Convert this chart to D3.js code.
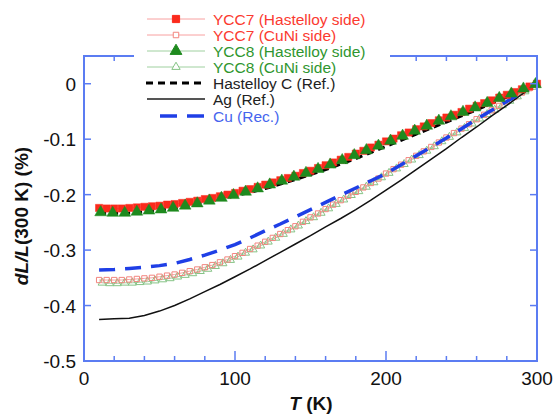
<!DOCTYPE html>
<html><head><meta charset="utf-8">
<script src="https://cdn.jsdelivr.net/npm/d3@7"></script>
<style>html,body{margin:0;padding:0;background:#fff;}svg{display:block;font-family:"Liberation Sans",Arial,sans-serif;}</style>
</head><body>
<svg id="chart" width="558" height="416"></svg>
<script>
// ---------- data ----------
const xTicks = [0, 100, 200, 300];
const yTicks = [0, -0.1, -0.2, -0.3, -0.4, -0.5];
const yTickLabels = ["0", "-0.1", "-0.2", "-0.3", "-0.4", "-0.5"];

const legendLabels = ["YCC7 (Hastelloy side)", "YCC7 (CuNi side)", "YCC8 (Hastelloy side)", "YCC8 (CuNi side)", "Hastelloy C (Ref.)", "Ag (Ref.)", "Cu (Rec.)"];

const tYcc7Hast = [10,15,20,25,30,35,40,45,50,55,60,65,70,75,80,85,90,95,100,105,110,115,120,125,130,135,140,145,150,155,160,165,170,175,180,185,190,195,200,205,210,215,220,225,230,235,240,245,250,255,260,265,270,275,280,285,290,295,300];
const vYcc7Hast = [-0.224,-0.225,-0.225,-0.225,-0.224,-0.223,-0.222,-0.221,-0.220,-0.218,-0.217,-0.215,-0.213,-0.211,-0.208,-0.206,-0.203,-0.200,-0.197,-0.193,-0.190,-0.186,-0.182,-0.178,-0.174,-0.170,-0.166,-0.161,-0.157,-0.152,-0.147,-0.142,-0.137,-0.132,-0.126,-0.121,-0.115,-0.110,-0.104,-0.099,-0.093,-0.088,-0.082,-0.077,-0.071,-0.066,-0.061,-0.056,-0.051,-0.045,-0.040,-0.035,-0.030,-0.025,-0.020,-0.015,-0.010,-0.005,0.000];

const tYcc8Hast = [11,19,27,35,43,51,59,67,75,83,91,99,107,115,123,131,139,147,155,163,171,179,187,195,203,211,219,227,235,243,251,259,267,275,283,291,299];
const vYcc8Hast = [-0.232,-0.233,-0.233,-0.231,-0.229,-0.227,-0.224,-0.220,-0.216,-0.211,-0.206,-0.201,-0.195,-0.189,-0.182,-0.175,-0.168,-0.161,-0.154,-0.146,-0.138,-0.129,-0.120,-0.112,-0.103,-0.094,-0.085,-0.076,-0.067,-0.059,-0.051,-0.043,-0.035,-0.026,-0.018,-0.009,-0.001];

const tYcc7CuNi = [10,15,20,25,30,35,40,45,50,55,60,65,70,75,80,85,90,95,100,105,110,115,120,125,130,135,140,145,150,155,160,165,170,175,180,185,190,195,200,205,210,215,220,225,230,235,240,245,250,255,260,265,270,275,280,285,290,295,300];
const vYcc7CuNi = [-0.354,-0.354,-0.354,-0.354,-0.353,-0.352,-0.351,-0.350,-0.348,-0.346,-0.344,-0.341,-0.338,-0.335,-0.331,-0.327,-0.322,-0.317,-0.311,-0.305,-0.298,-0.292,-0.285,-0.278,-0.271,-0.264,-0.257,-0.249,-0.241,-0.234,-0.226,-0.218,-0.210,-0.202,-0.195,-0.187,-0.179,-0.171,-0.162,-0.154,-0.146,-0.138,-0.130,-0.122,-0.114,-0.106,-0.097,-0.089,-0.081,-0.073,-0.064,-0.056,-0.048,-0.040,-0.032,-0.024,-0.016,-0.008,0.000];

const tYcc8CuNi = [12,17,22,27,32,37,42,47,52,57,62,67,72,77,82,87,92,97,102,107,112,117,122,127,132,137,142,147,152,157,162,167,172,177,182,187,192,197,202,207,212,217,222,227,232,237,242,247,252,257,262,267,272,277,282,287,292,297];
const vYcc8CuNi = [-0.359,-0.360,-0.360,-0.359,-0.359,-0.358,-0.357,-0.355,-0.353,-0.351,-0.348,-0.345,-0.342,-0.338,-0.334,-0.329,-0.324,-0.318,-0.312,-0.305,-0.299,-0.292,-0.285,-0.278,-0.271,-0.263,-0.256,-0.248,-0.241,-0.233,-0.225,-0.217,-0.209,-0.201,-0.194,-0.186,-0.178,-0.169,-0.161,-0.153,-0.145,-0.137,-0.129,-0.121,-0.113,-0.104,-0.096,-0.088,-0.080,-0.072,-0.063,-0.055,-0.047,-0.039,-0.031,-0.023,-0.014,-0.006];

const tRef = [10,20,30,40,50,60,70,80,90,100,110,120,130,140,150,160,170,180,190,200,210,220,230,240,250,260,270,280,290,300];
const vHastelloy = [-0.234,-0.234,-0.233,-0.231,-0.228,-0.224,-0.219,-0.214,-0.208,-0.202,-0.196,-0.189,-0.181,-0.173,-0.164,-0.155,-0.145,-0.135,-0.124,-0.113,-0.102,-0.091,-0.080,-0.069,-0.058,-0.047,-0.035,-0.024,-0.012,0.000];
const vAg = [-0.425,-0.424,-0.423,-0.418,-0.410,-0.400,-0.388,-0.375,-0.362,-0.348,-0.334,-0.319,-0.304,-0.289,-0.274,-0.258,-0.243,-0.227,-0.210,-0.192,-0.174,-0.155,-0.136,-0.117,-0.097,-0.078,-0.058,-0.039,-0.019,0.000];
const vCu = [-0.336,-0.335,-0.333,-0.331,-0.328,-0.324,-0.317,-0.309,-0.300,-0.290,-0.278,-0.265,-0.253,-0.240,-0.227,-0.214,-0.201,-0.188,-0.175,-0.162,-0.146,-0.130,-0.114,-0.098,-0.081,-0.064,-0.048,-0.032,-0.016,0.000];

// ---------- styles ----------
const RED = "#fb2a1c", RED_LIGHT = "#f8a0a0", GREEN = "#1e8a1e", GREEN_LIGHT = "#9fd09f";
const BLUE = "#1f3fe6", AXIS = "#5b7cf2";

const svg = d3.select("#chart");
const L = 84, R = 537, T = 56, B = 361;
const x = d3.scaleLinear().domain([0, 300]).range([L, R]);
const y = d3.scaleLinear().domain([-0.5, 0.05]).range([B, T]);

const zip = (ts, vs) => ts.map((t, i) => [t, vs[i]]);
const line = d3.line().x(d => x(d[0])).y(d => y(d[1]));

const plot = svg.append("g");

function thinLine(data, color) {
  plot.append("path").datum(data).attr("d", line).attr("fill", "none")
    .attr("stroke", color).attr("stroke-width", 1);
}
function markers(data, type, size, fill, stroke, sw) {
  plot.append("g").selectAll("path").data(data).join("path")
    .attr("transform", d => `translate(${x(d[0])},${y(d[1])})`)
    .attr("d", d3.symbol().type(type).size(size))
    .attr("fill", fill).attr("stroke", stroke).attr("stroke-width", sw);
}

const d7c = zip(tYcc7CuNi, vYcc7CuNi), d8c = zip(tYcc8CuNi, vYcc8CuNi);
const d7h = zip(tYcc7Hast, vYcc7Hast), d8h = zip(tYcc8Hast, vYcc8Hast);

// CuNi side (open markers)
thinLine(d7c, RED_LIGHT);
thinLine(d8c, GREEN_LIGHT);
markers(d8c, d3.symbolTriangle, 28, "none", "#86c486", 1);
markers(d7c, d3.symbolSquare, 28, "none", "#f2857e", 1);

// reference lines
plot.append("path").datum(zip(tRef, vAg)).attr("d", line).attr("fill", "none")
  .attr("stroke", "#111").attr("stroke-width", 1.5);
plot.append("path").datum(zip(tRef, vCu)).attr("d", line).attr("fill", "none")
  .attr("stroke", BLUE).attr("stroke-width", 3.5).attr("stroke-dasharray", "16,10");
plot.append("path").datum(zip(tRef, vHastelloy)).attr("d", line).attr("fill", "none")
  .attr("stroke", "#000").attr("stroke-width", 3).attr("stroke-dasharray", "7,5");

// Hastelloy side (filled markers)
thinLine(d7h, RED_LIGHT);
markers(d7h, d3.symbolSquare, 52, RED, RED, 0.5);
markers(d8h, d3.symbolTriangle, 60, GREEN, GREEN, 0.5);

// ---------- frame & ticks ----------
const ax = svg.append("g").attr("stroke", AXIS).attr("fill", "none");
ax.append("rect").attr("x", L).attr("y", T).attr("width", R - L).attr("height", B - T).attr("stroke-width", 2);
const minorX = d3.range(0, 301, 20);
minorX.forEach(v => {
  const major = v % 100 === 0;
  ax.append("line").attr("x1", x(v)).attr("x2", x(v)).attr("y1", B).attr("y2", B - (major ? 10 : 5)).attr("stroke-width", 1.5);
  ax.append("line").attr("x1", x(v)).attr("x2", x(v)).attr("y1", T).attr("y2", T + (major ? 10 : 5)).attr("stroke-width", 1.5);
});
yTicks.forEach(v => {
  ax.append("line").attr("x1", L).attr("x2", L + 7).attr("y1", y(v)).attr("y2", y(v)).attr("stroke-width", 1.5);
  ax.append("line").attr("x1", R).attr("x2", R - 7).attr("y1", y(v)).attr("y2", y(v)).attr("stroke-width", 1.5);
});

// tick labels
svg.append("g").selectAll("text").data(xTicks).join("text")
  .attr("x", d => x(d)).attr("y", 385).attr("text-anchor", "middle")
  .attr("font-size", 19).attr("fill", "#111").text(d => d);
svg.append("g").selectAll("text").data(yTicks).join("text")
  .attr("x", 76).attr("y", d => y(d) + 7).attr("text-anchor", "end")
  .attr("font-size", 19).attr("fill", "#111").text((d, i) => yTickLabels[i]);

// axis titles
const xt = svg.append("text").attr("x", 311).attr("y", 410).attr("text-anchor", "middle")
  .attr("font-size", 19).attr("font-weight", "bold").attr("fill", "#111");
xt.append("tspan").attr("font-style", "italic").text("T");
xt.append("tspan").text(" (K)");
const yt = svg.append("text").attr("transform", "translate(28,216) rotate(-90)").attr("text-anchor", "middle")
  .attr("font-size", 19).attr("font-weight", "bold").attr("fill", "#111");
yt.append("tspan").attr("font-style", "italic").text("dL/L");
yt.append("tspan").text("(300 K) (%)");

// ---------- legend ----------
const lg = svg.append("g");
lg.append("rect").attr("x", 134).attr("y", 4).attr("width", 256).attr("height", 121).attr("fill", "#fff");
const rowY = [19, 35, 51, 67, 83, 99, 116];
const textColors = ["#fb3a30", "#fb3a30", "#2f962f", "#2f962f", "#222", "#222", "#4565ee"];
legendLabels.forEach((lab, i) => {
  const yy = rowY[i];
  const g = lg.append("g");
  if (i < 4) {
    g.append("line").attr("x1", 147).attr("x2", 205).attr("y1", yy).attr("y2", yy)
      .attr("stroke", i < 2 ? RED_LIGHT : GREEN_LIGHT).attr("stroke-width", 1);
    const type = i < 2 ? d3.symbolSquare : d3.symbolTriangle;
    const filled = (i === 0 || i === 2);
    const col = i < 2 ? RED : GREEN;
    g.append("path").attr("transform", `translate(176,${yy})`)
      .attr("d", d3.symbol().type(type).size(filled ? (i < 2 ? 52 : 60) : 30))
      .attr("fill", filled ? col : "#fff").attr("stroke", filled ? col : (i < 2 ? "#f2857e" : "#86c486")).attr("stroke-width", 1);
  } else if (i === 4) {
    g.append("line").attr("x1", 146).attr("x2", 206).attr("y1", yy).attr("y2", yy)
      .attr("stroke", "#000").attr("stroke-width", 3).attr("stroke-dasharray", "7,5");
  } else if (i === 5) {
    g.append("line").attr("x1", 147).attr("x2", 205).attr("y1", yy).attr("y2", yy)
      .attr("stroke", "#555").attr("stroke-width", 2);
  } else {
    g.append("line").attr("x1", 160).attr("x2", 204).attr("y1", yy).attr("y2", yy)
      .attr("stroke", BLUE).attr("stroke-width", 3.5).attr("stroke-dasharray", "17,10");
  }
  g.append("text").attr("x", 213).attr("y", yy + 5.5).attr("font-size", 15.5)
    .attr("fill", textColors[i]).text(lab);
});
</script>
</body></html>
